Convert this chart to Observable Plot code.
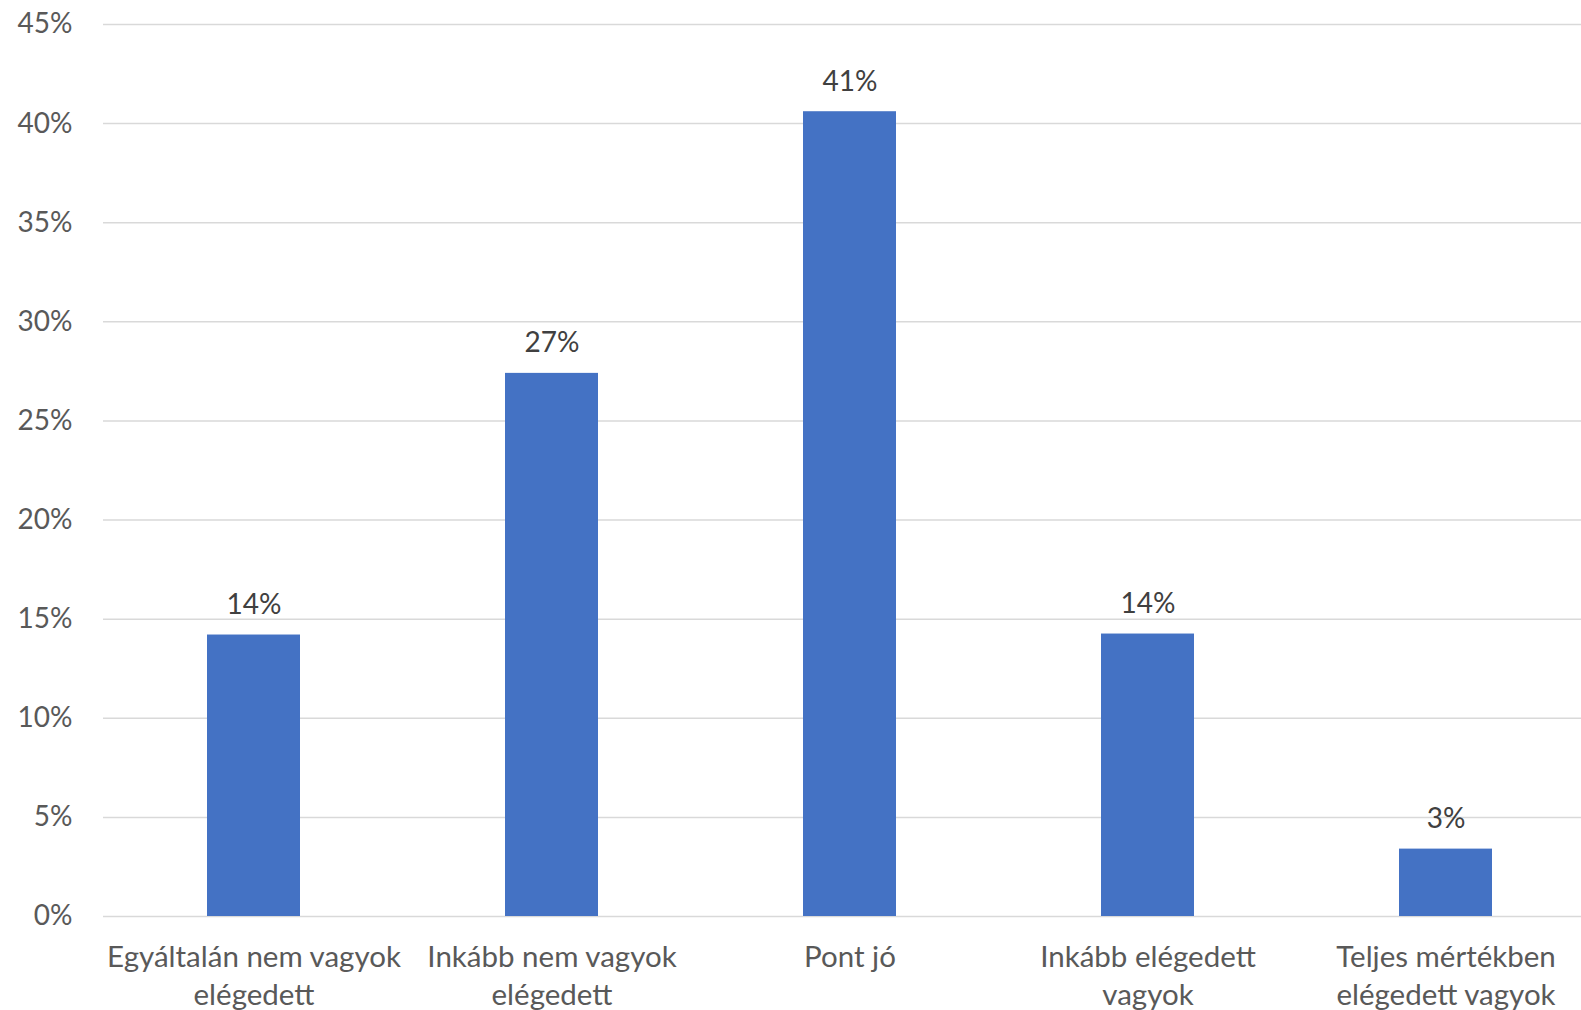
<!DOCTYPE html>
<html>
<head>
<meta charset="utf-8">
<script src="https://cdn.jsdelivr.net/npm/d3@7"></script>
<script src="https://cdn.jsdelivr.net/npm/@observablehq/plot@0.6"></script>
<style>
  html, body { margin: 0; padding: 0; background: #fff; }
  #chart svg { display: block; }
</style>
</head>
<body>
<div id="chart"></div>
<script>
const categories = [
  "Egyáltalán nem vagyok elégedett",
  "Inkább nem vagyok elégedett",
  "Pont jó",
  "Inkább elégedett vagyok",
  "Teljes mértékben elégedett vagyok"
];
const tickLabels = [
  "Egyáltalán nem vagyok\nelégedett",
  "Inkább nem vagyok\nelégedett",
  "Pont jó",
  "Inkább elégedett\nvagyok",
  "Teljes mértékben\nelégedett vagyok"
];
const values = [0.142, 0.274, 0.406, 0.1425, 0.034];
const yTicks = [0, 0.05, 0.10, 0.15, 0.20, 0.25, 0.30, 0.35, 0.40, 0.45];

const data = categories.map((c, i) => ({category: c, value: values[i], label: tickLabels[i]}));
const labelOf = new Map(categories.map((c, i) => [c, tickLabels[i]]));

const FONT = "Lato, 'Open Sans', sans-serif";

const chart = Plot.plot({
  width: 1581,
  height: 1010,
  marginLeft: 103,
  marginRight: 0,
  marginTop: 24,
  marginBottom: 94,
  style: {fontFamily: FONT, fontSize: "28px", background: "#fff"},
  x: {domain: categories, range: [103, 1595], paddingInner: 0.688, paddingOuter: 0.344, label: null},
  y: {domain: [0, 0.45], label: null},
  marks: [
    Plot.ruleY(yTicks, {stroke: "#d9d9d9", strokeWidth: 1.5}),
    Plot.barY(data, {x: "category", y: "value", fill: "#4472C4"}),
    Plot.text(data, {
      x: "category", y: "value",
      text: d => Math.round(d.value * 100) + "%",
      dy: -21, lineAnchor: "bottom", fill: "#404040", fontSize: 28
    }),
    Plot.axisY({
      ticks: yTicks, tickSize: 0, tickPadding: 31,
      tickFormat: d => Math.round(d * 100) + "%",
      fill: "#595959", fontSize: 28, label: null
    }),
    Plot.axisX({
      tickSize: 0, tickPadding: 23,
      tickFormat: d => labelOf.get(d),
      fill: "#595959", fontSize: 29.5, lineHeight: 1.3, label: null
    })
  ]
});
document.getElementById("chart").appendChild(chart);
</script>
</body>
</html>
